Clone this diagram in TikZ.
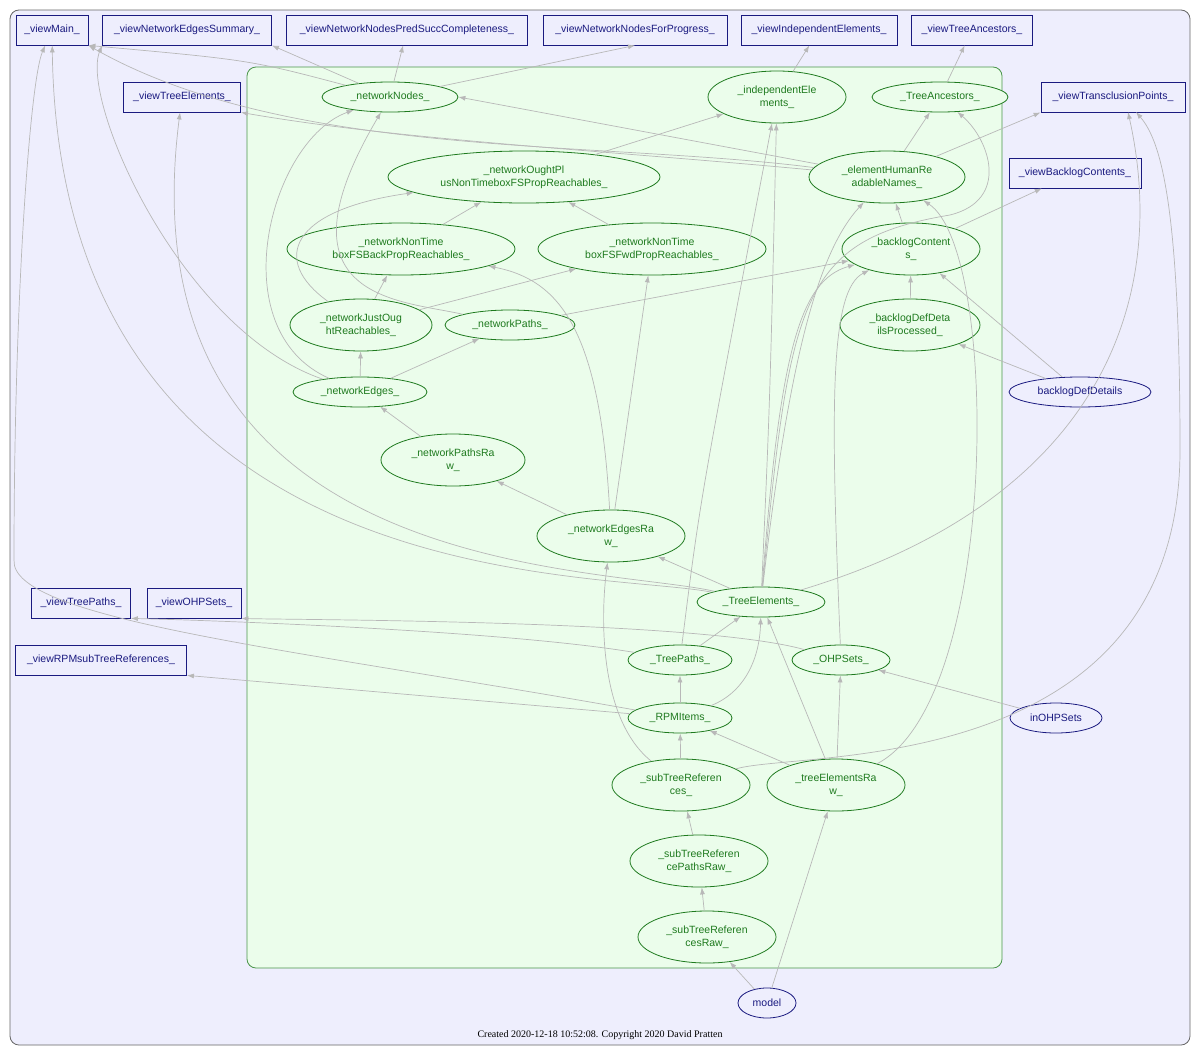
\documentclass[tikz,border=0pt]{standalone}
\usepackage{fontspec}
\setmainfont{Liberation Sans}
\newfontfamily\ftserif{Liberation Serif}
\usetikzlibrary{shapes.geometric,arrows.meta}
\definecolor{vbl}{HTML}{1A1A80}
\definecolor{gr}{HTML}{1E7A1E}
\definecolor{bgO}{HTML}{EEEEFD}
\definecolor{bgI}{HTML}{EBFDEB}
\definecolor{ed}{HTML}{B8B8B8}
\begin{document}
\begin{tikzpicture}[x=1pt,y=-1pt,
  font=\fontsize{10.5}{13}\selectfont,
  vb/.style={draw=vbl,text=vbl,fill=bgO,rectangle,inner sep=0pt,minimum height=30pt,line width=0.8pt},
  ge/.style={draw=gr,text=gr,fill=bgI,ellipse,inner sep=0pt,align=center,line width=0.8pt},
  be/.style={draw=vbl,text=vbl,fill=bgO,ellipse,inner sep=0pt,line width=0.8pt,minimum height=30pt},
  e/.style={draw=ed,line width=0.7pt,-{Latex[length=7pt,width=5pt]}}]
\useasboundingbox (0,0) rectangle (1200,1055);
\fill[white] (0,0) rectangle (1200,1055);
\draw[rounded corners=9pt,fill=bgO,draw=gray!80!black,line width=0.8pt] (10,10) rectangle (1190,1045);
\draw[rounded corners=9pt,fill=bgI,draw=gr!80,line width=0.8pt] (247,67) rectangle (1002,968);
\node[font=\ftserif\fontsize{10}{12}\selectfont] (foot) at (600,1035) {Created 2020-12-18 10:52:08. Copyright 2020 David Pratten};
% boxes
\node[vb,minimum width=72pt] (vMain) at (52,30) {\_viewMain\_};
\node[vb,minimum width=169pt] (vNES) at (187,30) {\_viewNetworkEdgesSummary\_};
\node[vb,minimum width=241pt] (vNNPSC) at (407,30) {\_viewNetworkNodesPredSuccCompleteness\_};
\node[vb,minimum width=184pt] (vNNFP) at (635,30) {\_viewNetworkNodesForProgress\_};
\node[vb,minimum width=156pt] (vIE) at (819,30) {\_viewIndependentElements\_};
\node[vb,minimum width=121pt] (vTA) at (972,30) {\_viewTreeAncestors\_};
\node[vb,minimum width=117pt] (vTE) at (182,97) {\_viewTreeElements\_};
\node[vb,minimum width=144pt] (vTP) at (1113,97) {\_viewTransclusionPoints\_};
\node[vb,minimum width=132pt] (vBC) at (1075,173) {\_viewBacklogContents\_};
\node[vb,minimum width=99pt] (vTPa) at (81,603) {\_viewTreePaths\_};
\node[vb,minimum width=94pt] (vOHP) at (194,603) {\_viewOHPSets\_};
\node[vb,minimum width=171pt] (vRPM) at (101,660) {\_viewRPMsubTreeReferences\_};
% green ellipses
\node[ge,minimum width=136pt,minimum height=30pt] (nN) at (390,97) {\_networkNodes\_};
\node[ge,minimum width=138pt,minimum height=52pt] (iE) at (777,97) {\_independentEle\\ments\_};
\node[ge,minimum width=136pt,minimum height=30pt] (tA) at (940,97) {\_TreeAncestors\_};
\node[ge,minimum width=272pt,minimum height=52pt] (nO) at (524,177) {\_networkOughtPl\\usNonTimeboxFSPropReachables\_};
\node[ge,minimum width=156pt,minimum height=52pt] (eH) at (887,177) {\_elementHumanRe\\adableNames\_};
\node[ge,minimum width=228pt,minimum height=52pt] (nB) at (401,249) {\_networkNonTime\\boxFSBackPropReachables\_};
\node[ge,minimum width=228pt,minimum height=52pt] (nF) at (652,249) {\_networkNonTime\\boxFSFwdPropReachables\_};
\node[ge,minimum width=138pt,minimum height=52pt] (bC) at (911,249) {\_backlogContent\\s\_};
\node[ge,minimum width=142pt,minimum height=52pt] (nJ) at (361,325) {\_networkJustOug\\htReachables\_};
\node[ge,minimum width=130pt,minimum height=30pt] (nP) at (510,325) {\_networkPaths\_};
\node[ge,minimum width=140pt,minimum height=52pt] (bP) at (910,325) {\_backlogDefDeta\\ilsProcessed\_};
\node[ge,minimum width=134pt,minimum height=30pt] (nE) at (360,392) {\_networkEdges\_};
\node[ge,minimum width=144pt,minimum height=52pt] (nPR) at (453,460) {\_networkPathsRa\\w\_};
\node[ge,minimum width=148pt,minimum height=52pt] (nER) at (611,536) {\_networkEdgesRa\\w\_};
\node[ge,minimum width=128pt,minimum height=30pt] (tE) at (761,602) {\_TreeElements\_};
\node[ge,minimum width=104pt,minimum height=30pt] (tP) at (680,660) {\_TreePaths\_};
\node[ge,minimum width=98pt,minimum height=30pt] (oS) at (841,660) {\_OHPSets\_};
\node[ge,minimum width=104pt,minimum height=30pt] (rI) at (680,718) {\_RPMItems\_};
\node[ge,minimum width=138pt,minimum height=52pt] (sR) at (681,785) {\_subTreeReferen\\ces\_};
\node[ge,minimum width=138pt,minimum height=52pt] (tR) at (836,785) {\_treeElementsRa\\w\_};
\node[ge,minimum width=138pt,minimum height=52pt] (sPR) at (699,861) {\_subTreeReferen\\cePathsRaw\_};
\node[ge,minimum width=138pt,minimum height=52pt] (sRR) at (707,937) {\_subTreeReferen\\cesRaw\_};
% blue ellipses
\node[be,minimum width=142pt] (bD) at (1080,392) {backlogDefDetails};
\node[be,minimum width=92pt] (iO) at (1056,718) {inOHPSets};
\node[be,minimum width=58pt] (mo) at (767,1003) {model};
\coordinate (vTPa1) at (1128,112);
\coordinate (vTPa2) at (1136,112);
% edges
\draw[e] (nN) .. controls (250,60) .. (vMain.south east);
\draw[e] (nN) -- (vNES.south east);
\draw[e] (nN) -- (vNNPSC);
\draw[e] (nN) -- (vNNFP.south);
\draw[e] (iE) -- (vIE);
\draw[e] (tA) -- (vTA);
\draw[e] (eH) -- (vTP.south west);
\draw[e] (eH) -- (tA);
\draw[e] (eH) -- (nN.east);
\draw[e] (eH) .. controls (600,150) and (400,140) .. (vTE.south east);
\draw[e] (eH) .. controls (600,140) and (290,160) .. (vMain.south east);
\draw[e] (nO) -- (iE);
\draw[e] (nB) -- (nO);
\draw[e] (nF) -- (nO);
\draw[e] (nJ) -- (nB);
\draw[e] (nJ) -- (nF);
\draw[e] (nJ) .. controls (270,260) and (290,210) .. (nO);
\draw[e] (nP) .. controls (400,300) and (270,300) .. (nN);
\draw[e] (nP) -- (bC);
\draw[e] (nE) -- (nJ);
\draw[e] (nE) -- (nP);
\draw[e] (nE) .. controls (220,330) and (270,140) .. (nN);
\draw[e] (nE) .. controls (180,330) and (80,100) .. (vNES.south west);
\draw[e] (nPR) -- (nE);
\draw[e] (nER) -- (nPR);
\draw[e] (nER) -- (nF);
\draw[e] (nER) .. controls (600,330) and (560,280) .. (nB);
\draw[e] (tE) -- (nER);
\draw[e] (tE) .. controls (770,400) .. (iE);
\draw[e] (tE) .. controls (790,350) and (820,250) .. (eH);
\draw[e] (tE) .. controls (780,350) and (800,280) .. (bC);
\draw[e] (tE) .. controls (790,300) and (800,240) .. (950,215) .. controls (1010,200) and (990,140) .. (tA);
\draw[e] (tE) .. controls (600,570) and (60,600) .. (vMain);
\draw[e] (tE) .. controls (600,565) and (120,580) .. (vTE);
\draw[e] (tE) .. controls (1100,500) and (1170,300) .. (vTPa1);
\draw[e] (tP) -- (tE);
\draw[e] (tP) .. controls (500,630) and (200,620) .. (vTPa.south east);
\draw[e] (tP) .. controls (700,500) .. (iE);
\draw[e] (oS) .. controls (700,620) and (300,620) .. (vOHP.south east);
\draw[e] (oS) .. controls (830,400) and (830,290) .. (bC);
\draw[e] (rI) -- (tP);
\draw[e] (rI) .. controls (750,690) and (760,650) .. (tE);
\draw[e] (rI) -- (vRPM.south east);
\draw[e] (rI) .. controls (300,650) and (10,620) .. (14,560) .. controls (14,300) and (30,80) .. (vMain);
\draw[e] (sR) -- (rI);
\draw[e] (sR) .. controls (600,720) and (600,620) .. (nER);
\draw[e] (sR) .. controls (800,750) and (1180,780) .. (1180,450) .. controls (1180,200) and (1160,140) .. (vTPa2);
\draw[e] (tR) -- (tE);
\draw[e] (tR) -- (oS);
\draw[e] (tR) -- (rI);
\draw[e] (tR) .. controls (1000,700) and (1000,250) .. (eH);
\draw[e] (iO) -- (oS);
\draw[e] (bD) -- (bP);
\draw[e] (bD) -- (bC);
\draw[e] (bP) -- (bC);
\draw[e] (bC) -- (eH);
\draw[e] (bC) -- (vBC);
\draw[e] (sPR) -- (sR);
\draw[e] (sRR) -- (sPR);
\draw[e] (mo) -- (sRR);
\draw[e] (mo) -- (tR);
\end{tikzpicture}
\end{document}
